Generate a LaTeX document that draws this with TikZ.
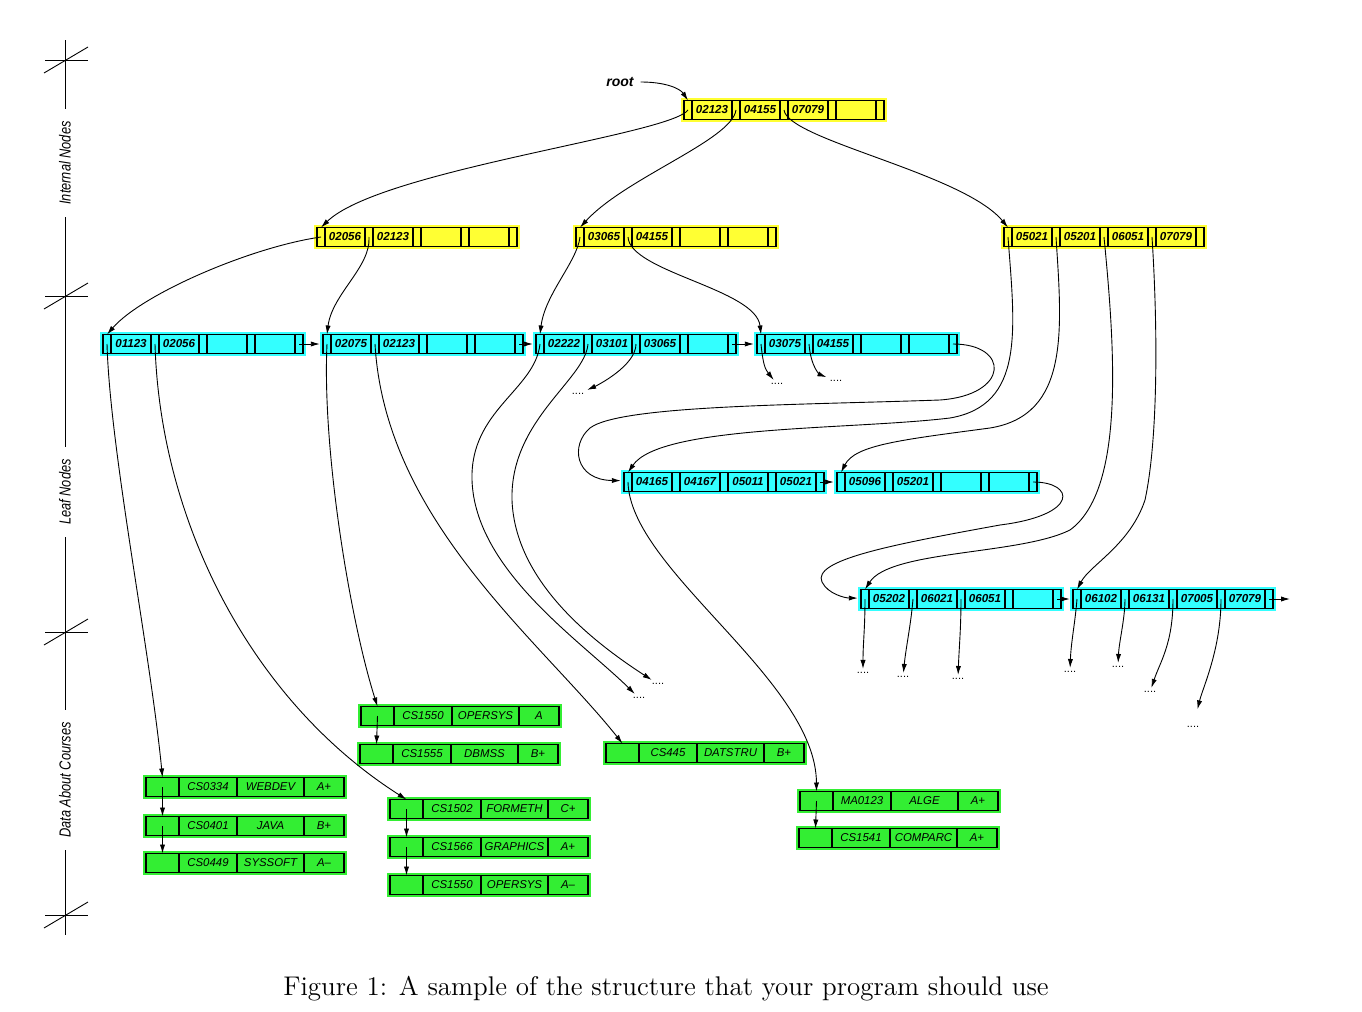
\documentclass[tikz,border=0pt]{standalone}
\usepackage{fontspec}
\setsansfont{Liberation Sans}
\usetikzlibrary{arrows.meta,positioning,fit,backgrounds}
\definecolor{bpyellow}{HTML}{FFFF33}
\definecolor{bpcyan}{HTML}{33FFFF}
\definecolor{bpgreen}{HTML}{33EE33}

\begin{document}
\begin{tikzpicture}[x=0.5pt, y=-0.5pt, >={Latex[length=4.5pt,width=2.6pt]}, line width=0.45pt]
  \tikzset{bcell/.style={draw, line width=0.6pt, minimum height=9.5pt, inner sep=0, outer sep=0, font=\sffamily\bfseries\itshape\fontsize{5.8}{6}\selectfont},
           ptr/.style={bcell, minimum width=4pt}, keycell/.style={bcell, minimum width=20pt},
           dcell/.style={bcell, font=\sffamily\itshape\fontsize{5.7}{6}\selectfont},
           halo/.style={inner sep=1.4pt, draw=none},
           etc/.style={inner sep=1.5pt, font=\sffamily\fontsize{5.5}{6}\selectfont},
           axlbl/.style={rotate=90, inner sep=6pt, font=\sffamily\itshape\fontsize{8}{9}\selectfont}}
  \useasboundingbox (0,0) rectangle (1362,1012);
  % axis on the left
  \node[axlbl] (intl) at (65,163) {\scalebox{0.8}[1]{Internal Nodes}};
  \node[axlbl] (leafl) at (65,492) {\scalebox{0.8}[1]{Leaf Nodes}};
  \node[axlbl] (datal) at (65,780) {\scalebox{0.8}[1]{Data About Courses}};
  \coordinate (axtop) at (65,40);
  \coordinate (axbot) at (65,935);
  \draw (axtop) -- (intl); \draw (intl) -- (leafl); \draw (leafl) -- (datal); \draw (datal) -- (axbot);
  \foreach \cy in {60,296,632,915} { \draw (45,\cy) -- (88,\cy); \draw (44,\cy+13) -- (88,\cy-13); }
  % tree records: pointer, key, pointer, ...
  \foreach \nm/\x/\y/\col/\keys in {
      root/684/110/bpyellow/{02123,04155,07079,{}},
      ia/317/237/bpyellow/{02056,02123,{},{}},
      ib/576/237/bpyellow/{03065,04155,{},{}},
      ic/1004/237/bpyellow/{05021,05201,06051,07079},
      la/103/344/bpcyan/{01123,02056,{},{}},
      lb/323/344/bpcyan/{02075,02123,{},{}},
      lc/536/344/bpcyan/{02222,03101,03065,{}},
      ld/757/344/bpcyan/{03075,04155,{},{}},
      le/624/482/bpcyan/{04165,04167,05011,05021},
      lf/837/482/bpcyan/{05096,05201,{},{}},
      lg/861/599/bpcyan/{05202,06021,06051,{}},
      lh/1073/599/bpcyan/{06102,06131,07005,07079}} {
    \node[ptr, anchor=west] (\nm-p0) at (\x,\y) {};
    \foreach \k [count=\i, remember=\i as \j (initially 0)] in \keys {
      \node[keycell, right=0pt of \nm-p\j] (\nm-k\i) {\k};
      \node[ptr, right=0pt of \nm-k\i] (\nm-p\i) {};
    }
    \begin{scope}[on background layer]
      \node[halo, fill=\col, fit=(\nm-p0)(\nm-p4)] (\nm) {};
    \end{scope}
  }
  % course records
  \foreach \nm/\x/\y/\crs/\ttl/\grd in {
      da/146/787/CS0334/WEBDEV/A+, db/146/826/CS0401/JAVA/B+, dc/146/863/CS0449/SYSSOFT/A\textendash,
      dd/361/716/CS1550/OPERSYS/A, de/360/754/CS1555/DBMSS/B+,
      df/390/809/CS1502/FORMETH/C+, dg/390/847/CS1566/GRAPHICS/A+, dh/390/885/CS1550/OPERSYS/A\textendash,
      di/606/753/CS445/DATSTRU/B+, dj/800/801/MA0123/ALGE/A+, dk/799/838/CS1541/COMPARC/A+} {
    \node[dcell, minimum width=16.5pt, anchor=west] (\nm-p) at (\x,\y) {};
    \node[dcell, minimum width=29pt, right=0pt of \nm-p] (\nm-c) {\crs};
    \node[dcell, minimum width=33.5pt, right=0pt of \nm-c] (\nm-t) {\ttl};
    \node[dcell, minimum width=20pt, right=0pt of \nm-t] (\nm-g) {\grd};
    \begin{scope}[on background layer]
      \node[halo, fill=bpgreen, fit=(\nm-p)(\nm-g)] (\nm) {};
    \end{scope}
  }
  % root pointer
  \node[font=\sffamily\bfseries\itshape\fontsize{7}{8}\selectfont] (rootlbl) at (620,82) {root};
  \draw[->] (rootlbl.east) .. controls +(25,0) and +(-8,-12) .. (root-p0.north);
  % internal pointers
  \draw[->] (root-p0.center) .. controls (670,135) and (380,170) .. (ia-p0.north);
  \draw[->] (root-p1.center) .. controls (732,140) and (625,178) .. (ib-p0.north);
  \draw[->] (root-p2.center) .. controls (788,140) and (963,173) .. (ic-p0.north);
  \draw[->] (ia-p0.center) .. controls (251,247) and (142,294) .. (la-p0.north);
  \draw[->] (ia-p1.center) .. controls (371,267) and (332,294) .. (lb-p0.north);
  \draw[->] (ib-p0.center) .. controls (577,262) and (545,294) .. (lc-p0.north);
  \draw[->] (ib-p1.center) .. controls (630,272) and (756,289) .. (ld-p0.north);
  \draw[->] (ic-p0.center) .. controls (1015,330) and (1025,405) .. (950,418) .. controls (850,430) and (660,425) .. (le-p0.north);
  \draw[->] (ic-p1.center) .. controls (1062,330) and (1070,415) .. (990,428) .. controls (900,440) and (855,445) .. (lf-p0.north);
  \draw[->] (ic-p2.center) .. controls (1115,350) and (1125,490) .. (1070,530) .. controls (1020,555) and (890,550) .. (lg-p0.north);
  \draw[->] (ic-p3.center) .. controls (1158,330) and (1158,440) .. (1145,500) .. controls (1130,545) and (1090,565) .. (lh-p0.north);
  % leaf chain
  \coordinate (lhend) at (1290,599);
  \draw[->] (la-p4.center) -- (lb);
  \draw[->] (lb-p4.center) -- (lc);
  \draw[->] (lc-p4.center) -- (ld);
  \draw[->] (ld-p4.center) .. controls (1010,344) and (1010,395) .. (940,400) .. controls (800,405) and (620,405) .. (590,428) .. controls (570,445) and (575,480) .. (le);
  \draw[->] (le-p4.center) -- (lf);
  \draw[->] (lf-p4.center) .. controls (1075,482) and (1080,515) .. (1000,525) .. controls (890,545) and (812,560) .. (822,582) .. controls (828,594) and (845,598) .. (lg);
  \draw[->] (lg-p4.center) -- (lh);
  \draw[->] (lh-p4.center) -- (lhend);
  % leaves to courses
  \draw[->] (la-p0.center) .. controls (110,450) and (150,650) .. (da-p.north);
  \draw[->] (la-p1.center) .. controls (160,520) and (250,700) .. (df-p.north);
  \draw[->] (lb-p0.center) .. controls (322,450) and (350,620) .. (dd-p.north);
  \draw[->] (lb-p1.center) .. controls (385,520) and (540,640) .. (di-p.north);
  \draw[->] (le-p0.center) .. controls (630,570) and (816,680) .. (dj-p.north);
  \draw[->] (da-p.center) -- (db-p.north);
  \draw[->] (db-p.center) -- (dc-p.north);
  \draw[->] (dd-p.center) -- (de-p.north);
  \draw[->] (df-p.center) -- (dg-p.north);
  \draw[->] (dg-p.center) -- (dh-p.north);
  \draw[->] (dj-p.center) -- (dk-p.north);
  % elided parts
  \node[etc] (e1) at (578,394) {....};
  \node[etc] (e2) at (777,384) {....};
  \node[etc] (e3) at (836,381) {....};
  \node[etc] (e4) at (639,698) {....};
  \node[etc] (e5) at (658,684) {....};
  \node[etc] (e6) at (863,673) {....};
  \node[etc] (e7) at (903,677) {....};
  \node[etc] (e8) at (958,679) {....};
  \node[etc] (e9) at (1070,672) {....};
  \node[etc] (e10) at (1118,667) {....};
  \node[etc] (e11) at (1150,692) {....};
  \node[etc] (e12) at (1193,727) {....};
  \draw[->] (lc-p0.center) .. controls (535,390) and (470,410) .. (472,480) .. controls (475,570) and (580,640) .. (e4);
  \draw[->] (lc-p1.center) .. controls (585,380) and (510,420) .. (512,500) .. controls (515,580) and (590,640) .. (e5);
  \draw[->] (lc-p2.center) .. controls +(0,22) and +(18,-8) .. (e1);
  \draw[->] (ld-p0.center) .. controls +(2,20) and +(-12,-15) .. (e2);
  \draw[->] (ld-p1.center) .. controls +(2,25) and +(-15,-6) .. (e3);
  \draw[->] (lg-p0.center) .. controls +(0,30) and +(0,-30) .. (e6);
  \draw[->] (lg-p1.center) .. controls +(-2,25) and +(3,-30) .. (e7);
  \draw[->] (lg-p2.center) .. controls +(0,30) and +(1,-30) .. (e8);
  \draw[->] (lh-p0.center) .. controls +(-2,25) and +(1,-30) .. (e9);
  \draw[->] (lh-p1.center) .. controls +(0,20) and +(1,-25) .. (e10);
  \draw[->] (lh-p2.center) .. controls +(0,45) and +(10,-30) .. (e11);
  \draw[->, shorten >=7pt] (lh-p3.center) .. controls +(0,50) and +(10,-40) .. (e12);
  % caption
  \node[font=\fontsize{13.5}{16}\selectfont, anchor=base] (cap) at (666,995) {Figure 1: A sample of the structure that your program should use};
\end{tikzpicture}
\end{document}
